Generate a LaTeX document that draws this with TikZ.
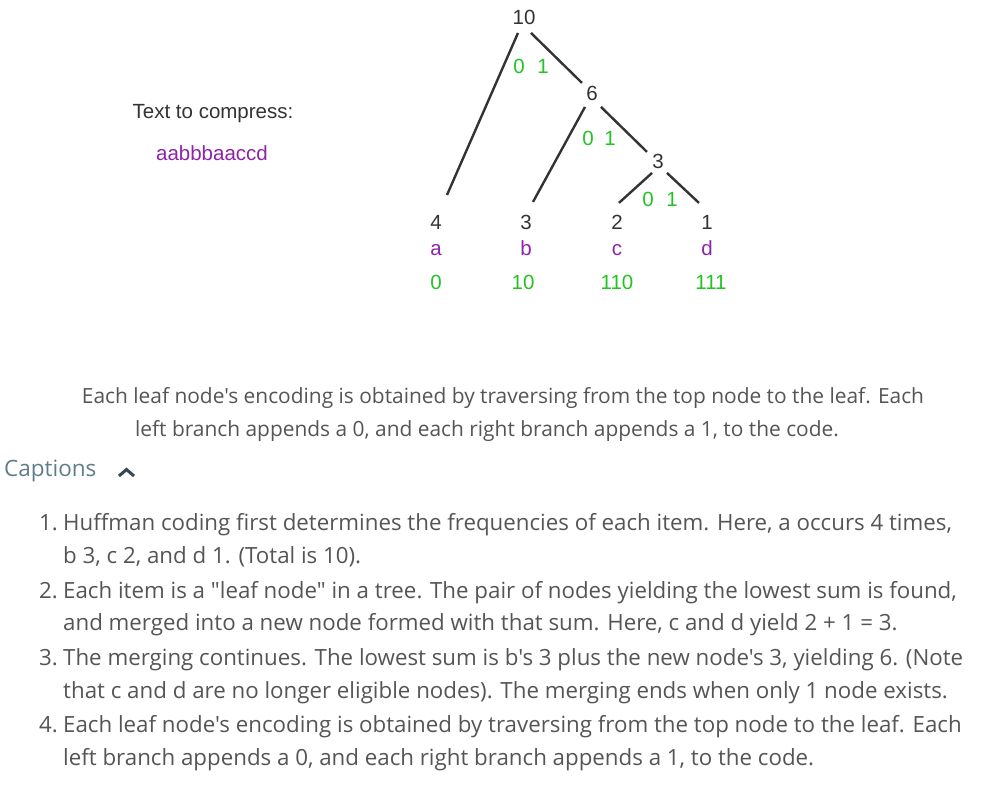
\documentclass[tikz,border=0pt]{standalone}
\usepackage{fontspec}
\setmainfont{Open Sans}[Ligatures=TeXOff]
\newfontfamily\arialf{Liberation Sans}
\usetikzlibrary{calc}
\definecolor{edgegray}{HTML}{333333}
\definecolor{codegreen}{HTML}{22C322}
\definecolor{letterpurple}{HTML}{8E24AA}
\definecolor{bodygray}{HTML}{555555}
\definecolor{capgray}{HTML}{607D8B}
\definecolor{chevgray}{HTML}{37474F}
\begin{document}
\begin{tikzpicture}[x=1pt,y=-1pt,
  tnum/.style={anchor=base,inner sep=0,font=\arialf\fontsize{20.5}{24}\selectfont,text=edgegray},
  tlet/.style={anchor=base,inner sep=0,font=\arialf\fontsize{20.5}{24}\selectfont,text=letterpurple},
  tcode/.style={anchor=base,inner sep=0,font=\arialf\fontsize{20.5}{24}\selectfont,text=codegreen},
  branch/.style={draw=edgegray,line width=2.4pt},
  body/.style={anchor=base west,inner sep=0,font=\fontsize{22.3}{26}\selectfont,text=bodygray},
  numl/.style={anchor=base east,inner sep=0,font=\fontsize{22.3}{26}\selectfont,text=bodygray},
  captext/.style={anchor=base,inner sep=0,font=\fontsize{20.9}{24}\selectfont,text=bodygray}]
\useasboundingbox (0,0) rectangle (987,784);
\fill[white] (0,0) rectangle (987,784);
% left text
\node[tnum] (ttc) at (213,118) {Text to compress:};
\node[tlet] (src) at (212,160) {aabbbaaccd};
% tree nodes
\node[tnum] (n10) at (524,25) {10};
\node[tnum] (n6) at (592,100) {6};
\node[tnum] (n3) at (658,168) {3};
\node[tnum] (l4) at (436,229) {4};
\node[tnum] (l3) at (526,229) {3};
\node[tnum] (l2) at (617,229) {2};
\node[tnum] (l1) at (707,229) {1};
\node[tlet] (la) at (436,255) {a};
\node[tlet] (lb) at (526,255) {b};
\node[tlet] (lc) at (617,255) {c};
\node[tlet] (ld) at (707,255) {d};
\node[tcode] (ca) at (436,289) {0};
\node[tcode] (cb) at (523,289) {10};
\node[tcode] (cc) at (617,289) {110};
\node[tcode] (cd) at (711,289) {111};
% branch bits
\node[tcode] (z10) at (519,74) {0};
\node[tcode] (o10) at (543,74) {1};
\node[tcode] (z6) at (588,145) {0};
\node[tcode] (o6) at (610,145) {1};
\node[tcode] (z3) at (648,206) {0};
\node[tcode] (o3) at (672,206) {1};
% branches (offsets from node centres)
\draw[branch] ($(n10)+(-6,15)$) -- ($(l4)+(11,-27)$);
\draw[branch] ($(n10)+(7,15)$) -- ($(n6)+(-10,-10)$);
\draw[branch] ($(n6)+(-7,14)$) -- ($(l3)+(7,-20)$);
\draw[branch] ($(n6)+(9,14)$) -- ($(n3)+(-11,-9)$);
\draw[branch] ($(n3)+(-6,12)$) -- ($(l2)+(2,-19)$);
\draw[branch] ($(n3)+(9,12)$) -- ($(l1)+(-8,-19)$);
% caption
\node[captext] (c1) at (503,403) {Each leaf node's encoding is obtained by traversing from the top node to the leaf. Each};
\node[captext] (c2) at (487,436) {left branch appends a 0, and each right branch appends a 1, to the code.};
\node[anchor=base west,inner sep=0,font=\fontsize{22.5}{26}\selectfont,text=capgray] (capt) at (4,476) {Captions};
\coordinate (chev) at (126.5,469.5);
\draw[chevgray,line width=3pt,line join=miter] ($(chev)+(-7.5,6.5)$) -- (chev) -- ($(chev)+(7.5,6.5)$);
% list
\node[numl] (k1) at (58,530) {1.};
\node[body] (t1a) at (63,530) {Huffman coding first determines the frequencies of each item. Here, a occurs 4 times,};
\node[body] (t1b) at (63,563) {b 3, c 2, and d 1. (Total is 10).};
\node[numl] (k2) at (58,598) {2.};
\node[body] (t2a) at (63,598) {Each item is a "leaf node" in a tree. The pair of nodes yielding the lowest sum is found,};
\node[body] (t2b) at (63,630) {and merged into a new node formed with that sum. Here, c and d yield 2 + 1 = 3.};
\node[numl] (k3) at (58,665) {3.};
\node[body] (t3a) at (63,665) {The merging continues. The lowest sum is b's 3 plus the new node's 3, yielding 6. (Note};
\node[body] (t3b) at (63,698) {that c and d are no longer eligible nodes). The merging ends when only 1 node exists.};
\node[numl] (k4) at (58,732) {4.};
\node[body] (t4a) at (63,732) {Each leaf node's encoding is obtained by traversing from the top node to the leaf. Each};
\node[body] (t4b) at (63,765) {left branch appends a 0, and each right branch appends a 1, to the code.};
\end{tikzpicture}
\end{document}
